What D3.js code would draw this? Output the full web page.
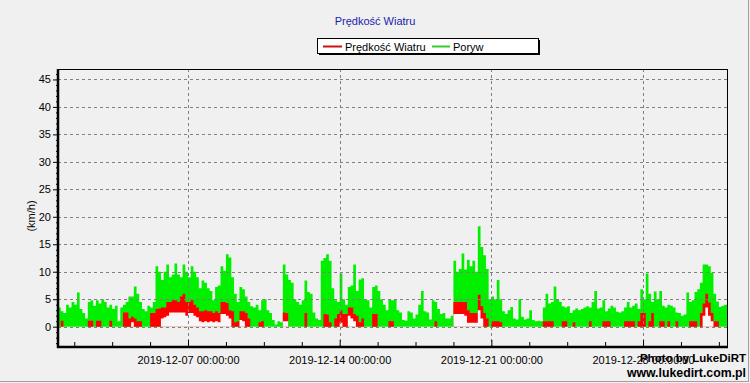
<!DOCTYPE html>
<html><head><meta charset="utf-8">
<script src="https://cdn.jsdelivr.net/npm/d3@7"></script>
<style>
html,body{margin:0;padding:0;background:#f0f0f0;}
svg{display:block;font-family:"Liberation Sans",Arial,sans-serif;}
</style></head>
<body>
<svg id="c" width="750" height="383"></svg>
<script>
// ---- data (3-hourly samples starting 2019-12-01 00:00) ----
const startLabel = "2019-12-01 00:00:00";
const endLabel = "2019-12-31 21:00:00";
const stepHours = 3;
const gust = [
3.5,2.8,2.5,4,3.5,4.5,4,6.2,
3.2,2.5,1.5,4.5,4.8,3.8,4.8,4.2,
5,4.5,3.5,4,3.2,3.8,1,3.5,
4,4.5,5.5,5.5,7.3,6,4.5,3.2,
2.8,3.8,3.5,4.5,11,10,8.5,10,
11.3,9,9.5,11.5,9.5,9,11.3,10,
9,11,10,9,7,8.4,8,7,
6.5,4.8,7.2,7.5,11,10.2,13.2,12.6,
9,6,4.5,7.2,6.8,5.5,4.5,3.7,
3.5,4,3,4.8,5,3,2.5,1.2,
0.4,1,0.8,11.3,9.5,8.5,8,5,
4.5,4,4.8,8.4,6.3,6,2.6,1.5,
1.2,12,12.5,13.2,12,7,4.8,4.5,
9.7,5,4,7.2,7.5,11.3,6.5,8.6,
8.8,5,4.8,3.5,7.2,7.5,6.5,5,
4,3,5,4.8,5,3,2.6,1.2,
1.1,2.8,2.6,1.5,2.2,4,6.5,2.8,
2.6,1.3,4.8,4.5,3.2,2.3,2.5,1.5,
1.5,2,12,10,10.5,13.3,10.4,12.2,
11,12,10,18.3,14.5,13,10.5,5,
5.5,5,8.5,5,2.8,2.3,3,3.6,
1.5,1.3,5,1.8,1.3,1.5,3,1.2,
1,1.1,1,3.5,6,4.2,4.5,7.3,
5,4.5,3.7,3.5,3.7,2.5,3,3.3,
3,3.2,3.5,3.7,3.5,4.5,6.5,3.3,
3.5,4.8,2.8,3.3,3.8,3.5,2.7,2.6,
2.8,3.5,4.5,3.5,3.8,4.2,3.2,6.8,
5,9.7,6,4.5,6.4,5,6.5,3.8,
3.5,4,3.8,3.5,2.6,2.5,2,2.2,
6.2,4.5,4.8,6.3,6.8,8,11.3,11.3,
11,9.8,6,4.6,3.6,3.8,4
];
const speed = [
0,1.1,0,0,0,0,0,0,
0,0,0,1.1,1.1,0,1.1,1.1,
0,0,0,1.1,0,0,0,0,
2.6,2.6,1.5,1.8,1.5,1,1,0,
0,0,2.5,2.5,3.2,3.3,3.5,3.5,
4.5,4.5,4.8,4.8,4.5,5.5,6,4.5,
4.5,4.8,4,3.5,2.8,2.8,3,2.8,
2.8,2.5,2.8,2.5,4.5,4.5,4.3,3,
2.8,0.8,1,2.8,2.8,2.5,1.5,0,
0,0,0.8,1,0,0,0,0,
0,0,0,2.6,2.5,0,0,0,
0,0,0,2.5,0,0,0,0,
0,0,2.3,2.2,0.8,0,1.5,2.3,
3,2.3,2.3,3.5,3.5,2.3,2,0.8,
1.5,0,0,0,2.3,2.3,0,0,
0,0,1,1,0,0,0,0,
0,0,0,0,0,0,0,0,
0,0,0,1,0,0,0,0,
0,0,4.5,4.5,4.5,4.5,4.5,3,
2.5,2.5,2.5,5.8,3.7,2.5,1.5,0,
1,1,1,0.8,0,0,0,0,
0,0,0,0,0,0,0,0,
0,0,0,1,1,1,1,0,
0,0,1,1,0,0,0.8,0,
0,0,0,0,1,0,0,0,
0,1,1,1,0,0,0,0,
0,1,1,1,1,0,1,2.5,
2.5,0,1,2.5,0,0,1,1,
0,1,0,0,1,0,0,0,
0,1,1,1,0,2.5,4.2,6,
4.4,2.5,1,1,0,0,0
];
const low = [
0,0,0,0,0,0,0,0,
0,0,0,0,0,0,0,0,
0,0,0,0,0,0,0,0,
0,0,0,0.8,0,0,0,0,
0,0,0,0,0,0,1.5,1.7,
2,2.6,2.6,2.6,2.6,2.6,2.6,2,
2.5,2.5,2,1.7,1,0.8,1,0.8,
1,0.8,1,0.8,2.3,2.3,2,1.5,
0,0,0,1.2,1,0,0,0,
0,0,0,0,0,0,0,0,
0,0,0,1,1,0,0,0,
0,0,0,0,0,0,0,0,
0,0,0,0,0,0,0,0,
0.7,0,0,2,1.5,1,0,0,
0,0,0,0,0,0,0,0,
0,0,0,0,0,0,0,0,
0,0,0,0,0,0,0,0,
0,0,0,0,0,0,0,0,
0,0,2.3,2.3,2.3,2.3,2,0.7,
0.7,0.7,0.7,3,1.5,0,0,0,
0,0,0,0,0,0,0,0,
0,0,0,0,0,0,0,0,
0,0,0,0,0,0,0,0,
0,0,0,0,0,0,0,0,
0,0,0,0,0,0,0,0,
0,0,0,0,0,0,0,0,
0,0,0,0,0,0,0,0,
0,0,0,0,0,0,0,0,
0,0,0,0,0,0,0,0,
0,0,0,0,0,0,2,3.5,
2,1,0,0,0,0,0
];
const xTickLabels = ["2019-12-07 00:00:00","2019-12-14 00:00:00","2019-12-21 00:00:00","2019-12-28 00:00:00"];
const yTicks = [0,5,10,15,20,25,30,35,40,45];
const yDomain = [-3.7, 46.9];
const title = "Prędkość Wiatru";
const seriesNames = ["Prędkość Wiatru","Poryw"];
const yLabel = "(km/h)";

// ---- layout ----
const svg = d3.select("#c");
const L = 58, R = 727, T = 69, B = 347;
const parse = d3.timeParse("%Y-%m-%d %H:%M:%S");
const fmt = d3.timeFormat("%Y-%m-%d %H:%M:%S");
const t0 = parse(startLabel), t1 = parse(endLabel);
const x = d3.scaleTime().domain([t0, t1]).range([L, R]);
const y = d3.scaleLinear().domain(yDomain).range([B, T]);
const FONT = '"Liberation Sans", Arial, sans-serif';

// outer panel edges
svg.append("line").attr("x1",0).attr("x2",749).attr("y1",381.5).attr("y2",381.5).attr("stroke","#a0a0a0");
svg.append("line").attr("x1",748.5).attr("x2",748.5).attr("y1",0).attr("y2",382).attr("stroke","#a0a0a0");

// title
svg.append("text").attr("x",375).attr("y",25).attr("text-anchor","middle")
  .attr("font-size",11).attr("fill","#1c1ca8").text(title);

// legend
const lg = svg.append("g");
lg.append("rect").attr("x",319).attr("y",40).attr("width",221).attr("height",15).attr("fill","#000");
lg.append("rect").attr("x",317.5).attr("y",38.5).attr("width",221).attr("height",15).attr("fill","#fff").attr("stroke","#000");
lg.append("line").attr("x1",323).attr("x2",342).attr("y1",46.5).attr("y2",46.5).attr("stroke","#cc1111").attr("stroke-width",2);
lg.append("text").attr("x",345).attr("y",50.5).attr("font-size",11).attr("fill","#000").text(seriesNames[0]);
lg.append("line").attr("x1",432).attr("x2",450).attr("y1",46.5).attr("y2",46.5).attr("stroke","#33cc33").attr("stroke-width",2);
lg.append("text").attr("x",453).attr("y",50.5).attr("font-size",11).attr("fill","#000").text(seriesNames[1]);

// clip
svg.append("clipPath").attr("id","pc").append("rect").attr("x",L).attr("y",T).attr("width",R-L).attr("height",B-T);

// data rows
const rows = gust.map((g,i)=>({t: d3.timeHour.offset(t0, i*stepHours), g, s: speed[i], l: low[i]}));
rows.push({t: t1, g: gust[gust.length-1], s: speed[speed.length-1], l: low[low.length-1]});

const plot = svg.append("g").attr("clip-path","url(#pc)");
const areaG = d3.area().curve(d3.curveStepAfter).x(d=>x(d.t)).y0(y(0)).y1(d=>y(d.g));
const areaS = d3.area().curve(d3.curveStepAfter).x(d=>x(d.t)).y0(y(0)).y1(d=>y(d.s));
const areaL = d3.area().curve(d3.curveStepAfter).x(d=>x(d.t)).y0(y(0)).y1(d=>y(d.l));

// grid (behind data)
const grid = svg.append("g");
yTicks.forEach(v=>{
  grid.append("line").attr("x1",L).attr("x2",R).attr("y1",Math.round(y(v))+0.5).attr("y2",Math.round(y(v))+0.5)
    .attr("stroke","#808080").attr("stroke-dasharray","3,3");
});
const majors = xTickLabels.map(parse);
majors.forEach(d=>{
  grid.append("line").attr("x1",Math.round(x(d))+0.5).attr("x2",Math.round(x(d))+0.5).attr("y1",T).attr("y2",B)
    .attr("stroke","#808080").attr("stroke-dasharray","3,3");
});

plot.append("path").datum(rows).attr("d",areaG).attr("fill","#00f000");
plot.append("path").datum(rows).attr("d",areaS).attr("fill","#ff0000");
plot.append("path").datum(rows).attr("d",areaL).attr("fill","#f8f6f6");

// redraw grid segments on top where visible? (reference shows grid behind data)

// axes
const xAxis = d3.axisBottom(x).tickValues(majors).tickFormat(fmt).tickSizeInner(-7).tickSizeOuter(0).tickPadding(9);
const gx = svg.append("g").attr("transform",`translate(0,${B})`).call(xAxis);
gx.select(".domain").remove();
gx.selectAll("text").attr("font-size",11).attr("font-family",FONT).attr("fill","#000");
gx.selectAll("line").attr("stroke","#000");

const minors = [];
majors.forEach((m,k)=>{
  for (let j=1;j<=3;j++){
    const b = d3.timeHour.offset(m, -42*j);
    if (b>=t0 && !minors.some(q=>+q===+b)) minors.push(b);
    const a = d3.timeHour.offset(m, 42*j);
    if (a<=t1 && !minors.some(q=>+q===+a) && !majors.some(q=>+q===+a)) minors.push(a);
  }
});
const xMinor = d3.axisBottom(x).tickValues(minors).tickFormat("").tickSizeInner(-5).tickSizeOuter(0);
const gxm = svg.append("g").attr("transform",`translate(0,${B})`).call(xMinor);
gxm.select(".domain").remove();
gxm.selectAll("line").attr("stroke","#000");

const yAxis = d3.axisLeft(y).tickValues(yTicks).tickSizeInner(5).tickSizeOuter(0).tickPadding(2);
const gy = svg.append("g").attr("transform",`translate(${L},0)`).call(yAxis);
gy.select(".domain").remove();
gy.selectAll("text").attr("font-size",11).attr("font-family",FONT).attr("fill","#000");
gy.selectAll("line").attr("stroke","#000");
const yMinorVals = d3.range(-3, 47, 1).filter(v=>v%5!==0);
const gym = svg.append("g").attr("transform",`translate(${L},0)`)
  .call(d3.axisLeft(y).tickValues(yMinorVals).tickFormat("").tickSizeInner(2).tickSizeOuter(0));
gym.select(".domain").remove();
gym.selectAll("line").attr("stroke","#000");

// frame
svg.append("rect").attr("x",L+0.5).attr("y",T+0.5).attr("width",R-L).attr("height",B-T-1)
  .attr("fill","none").attr("stroke","#000");
svg.append("line").attr("x1",L).attr("x2",L).attr("y1",T).attr("y2",B+1).attr("stroke","#000").attr("stroke-width",2.5);
svg.append("line").attr("x1",L-1).attr("x2",R+1).attr("y1",B).attr("y2",B).attr("stroke","#000").attr("stroke-width",2.5);

// y label
svg.append("text").attr("transform","translate(35,216) rotate(-90)").attr("text-anchor","middle")
  .attr("font-size",11).attr("fill","#000").text(yLabel);

// watermark
svg.append("text").attr("x",746).attr("y",362).attr("text-anchor","end").attr("font-weight","bold")
  .attr("font-size",11.5).attr("fill","#000").text("Photo by LukeDiRT");
svg.append("text").attr("x",746).attr("y",377).attr("text-anchor","end").attr("font-weight","bold")
  .attr("font-size",12.3).attr("fill","#000").text("www.lukedirt.com.pl");
</script>
</body></html>
